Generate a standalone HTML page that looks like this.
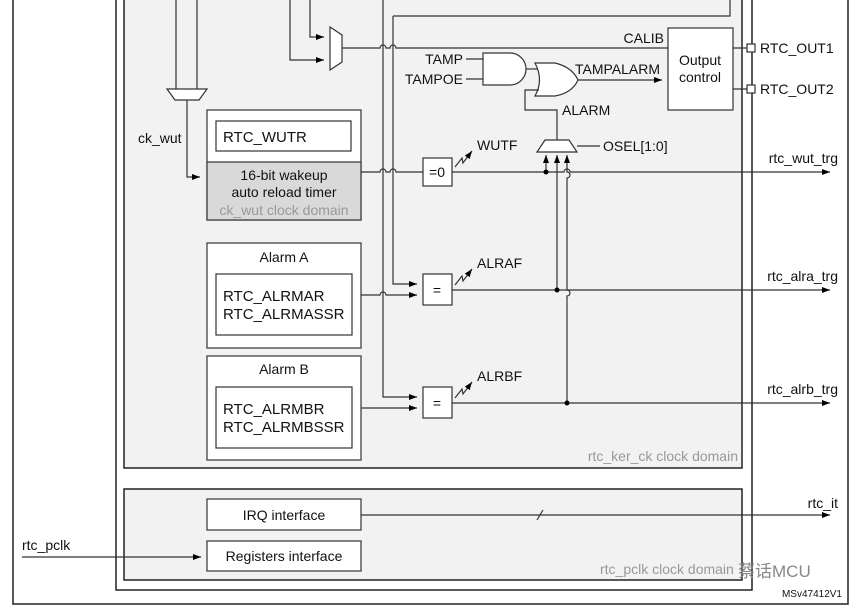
<!DOCTYPE html>
<html><head><meta charset="utf-8"><style>
html,body{margin:0;padding:0;background:#fff;}
svg{display:block;font-family:"Liberation Sans","Noto Sans CJK SC",sans-serif;}
</style></head><body>
<svg width="855" height="612" viewBox="0 0 855 612" xmlns="http://www.w3.org/2000/svg">
<defs>
<marker id="a" markerWidth="8" markerHeight="6" refX="8" refY="3" orient="auto" markerUnits="userSpaceOnUse"><path d="M0,0 L8,3 L0,6 z" fill="#000"/></marker>
</defs>
<g stroke="#222" stroke-width="1.5" fill="none">
<path d="M13,0 V604 H848 V0" fill="#fff"/>
<path d="M116,0 V590 H752 V0" fill="#fff"/>
<path d="M124,0 V468 H742 V0" fill="#f2f2f2"/>
<rect x="124" y="489" width="618" height="91" fill="#f2f2f2"/>
</g>
<g stroke="#333" stroke-width="1.2" fill="none">
<path d="M730,0 V16 H393"/>
<path d="M176,0 V89 M197,0 V89"/>
<path d="M167,89 H207 L199,100 H175 Z" fill="#fff"/>
<path d="M187,100 V177 H200" marker-end="url(#a)"/>
<path d="M290,0 V60 H324" marker-end="url(#a)"/>
<path d="M310,0 V37 H324" marker-end="url(#a)"/>
<path d="M330,27 L342,35 V62 L330,70 Z" fill="#fff"/>
<path d="M342,48 H380 a3,3 0 0 1 6,0 H390 a3,3 0 0 1 6,0 H668"/>
<path d="M383,0 V397 H417" marker-end="url(#a)"/>
<path d="M393,16 V284 H417" marker-end="url(#a)"/>
<rect x="207" y="110" width="154" height="110" fill="#fff"/>
<rect x="207" y="162" width="154" height="58" fill="#d9d9d9"/>
<rect x="216" y="121" width="135" height="30" fill="#fff"/>
<path d="M361,172 H380 a3,3 0 0 1 6,0 H390 a3,3 0 0 1 6,0 H423"/>
<rect x="423" y="158" width="29" height="28" fill="#fff"/>
<path d="M452,172 H564 a3,3 0 0 1 6,0 H830" marker-end="url(#a)"/>
<path d="M546,172 V155" marker-end="url(#a)"/>
<path d="M557,290 V155" marker-end="url(#a)"/>
<path d="M567,403 V296 a3,3 0 0 0 0,-6 V178 a3,3 0 0 0 0,-6 V155" marker-end="url(#a)"/>
<rect x="207" y="243" width="154" height="105" fill="#fff"/>
<rect x="216" y="274" width="136" height="61" fill="#fff"/>
<path d="M361,295 H380 a3,3 0 0 1 6,0 H417" marker-end="url(#a)"/>
<rect x="423" y="274" width="29" height="31" fill="#fff"/>
<path d="M452,290 H830" marker-end="url(#a)"/>
<rect x="207" y="356" width="154" height="104" fill="#fff"/>
<rect x="216" y="387" width="136" height="61" fill="#fff"/>
<path d="M361,408 H417" marker-end="url(#a)"/>
<rect x="423" y="387" width="29" height="31" fill="#fff"/>
<path d="M452,403 H830" marker-end="url(#a)"/>
<path d="M455,167 L462,158 L463,163 L472,151" marker-end="url(#a)"/>
<path d="M455,285 L462,276 L463,281 L472,269" marker-end="url(#a)"/>
<path d="M455,398 L462,389 L463,394 L472,382" marker-end="url(#a)"/>
<path d="M466,59 H483 M466,79 H483"/>
<path d="M483,53 H510 A16,16 0 0 1 510,85 H483 Z" fill="#fff"/>
<path d="M526,69 H540"/>
<path d="M535,63 H555 Q572,67 578,80 Q572,93 555,96 H535 Q544,80 535,63 Z" fill="#fff"/>
<path d="M578,80 H662" marker-end="url(#a)"/>
<path d="M539,90 H525 V110 H557 V140"/>
<path d="M545,140 H569 L577,152 H537 Z" fill="#fff"/>
<path d="M577,146 H600"/>
<rect x="668" y="28" width="65" height="82" fill="#fff"/>
<path d="M733,48 H747 M733,89 H747"/>
<rect x="747" y="44" width="8" height="8" fill="#fff"/>
<rect x="747" y="85" width="8" height="8" fill="#fff"/>
<rect x="207" y="499" width="154" height="31" fill="#fff"/>
<rect x="207" y="541" width="154" height="30" fill="#fff"/>
<path d="M361,515 H830" marker-end="url(#a)"/>
<path d="M537,520 L543,510"/>
<path d="M22,557 H201" marker-end="url(#a)"/>
</g>
<g fill="#000">
<circle cx="546" cy="172" r="2.5"/><circle cx="557" cy="290" r="2.5"/><circle cx="567" cy="403" r="2.5"/>
</g>
<g font-size="14" fill="#111">
<text x="138" y="143">ck_wut</text>
<text x="223" y="142" font-size="15">RTC_WUTR</text>
<text x="284" y="180" text-anchor="middle">16-bit wakeup</text>
<text x="284" y="197" text-anchor="middle">auto reload timer</text>
<text x="284" y="215" text-anchor="middle" fill="#999">ck_wut clock domain</text>
<text x="437" y="177" text-anchor="middle">=0</text>
<text x="477" y="150">WUTF</text>
<text x="284" y="262" text-anchor="middle">Alarm A</text>
<text x="223" y="301" font-size="15">RTC_ALRMAR</text>
<text x="223" y="319" font-size="15">RTC_ALRMASSR</text>
<text x="437" y="295" text-anchor="middle">=</text>
<text x="477" y="268">ALRAF</text>
<text x="284" y="374" text-anchor="middle">Alarm B</text>
<text x="223" y="414" font-size="15">RTC_ALRMBR</text>
<text x="223" y="432" font-size="15">RTC_ALRMBSSR</text>
<text x="437" y="408" text-anchor="middle">=</text>
<text x="477" y="381">ALRBF</text>
<text x="463" y="64" text-anchor="end">TAMP</text>
<text x="463" y="84" text-anchor="end">TAMPOE</text>
<text x="664" y="43" text-anchor="end">CALIB</text>
<text x="575" y="74">TAMPALARM</text>
<text x="562" y="115">ALARM</text>
<text x="603" y="151">OSEL[1:0]</text>
<text x="700" y="65" text-anchor="middle">Output</text>
<text x="700" y="82" text-anchor="middle">control</text>
<text x="760" y="53">RTC_OUT1</text>
<text x="760" y="94">RTC_OUT2</text>
<text x="838" y="163" text-anchor="end">rtc_wut_trg</text>
<text x="838" y="281" text-anchor="end">rtc_alra_trg</text>
<text x="838" y="394" text-anchor="end">rtc_alrb_trg</text>
<text x="738" y="461" text-anchor="end" fill="#999">rtc_ker_ck clock domain</text>
<text x="284" y="520" text-anchor="middle">IRQ interface</text>
<text x="284" y="561" text-anchor="middle">Registers interface</text>
<text x="838" y="508" text-anchor="end">rtc_it</text>
<text x="22" y="550">rtc_pclk</text>
<text x="600" y="574" fill="#999">rtc_pclk clock domain</text>
<text x="738" y="577" fill="#888" font-size="17">蔡话MCU</text>
<text x="842" y="597" text-anchor="end" font-size="10">MSv47412V1</text>
</g>
</svg>
</body></html>
